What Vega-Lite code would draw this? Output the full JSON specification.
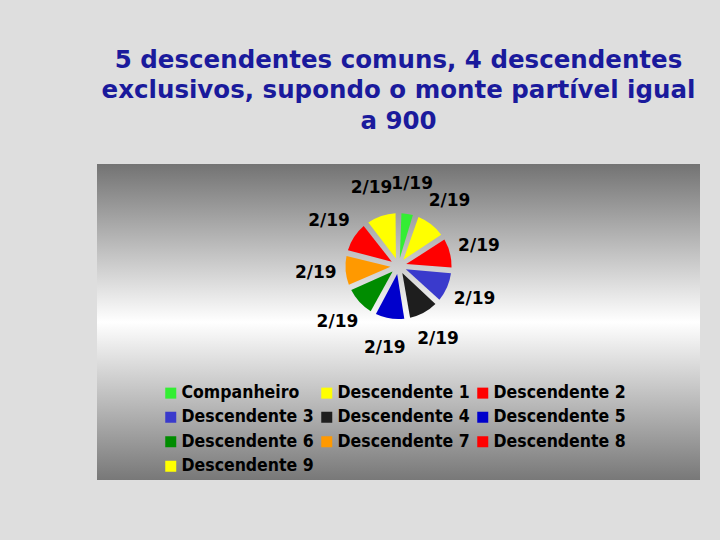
{
  "$schema": "https://vega.github.io/schema/vega-lite/v6.json",
  "width": 603,
  "height": 316,
  "padding": {"left": 97, "top": 47, "right": 20, "bottom": 61},
  "background": "#dedede",
  "title": {
    "text": ["5 descendentes comuns, 4 descendentes", "exclusivos, supondo o monte partível igual", "a 900"],
    "font": "DejaVu Sans",
    "fontSize": 24.5,
    "fontWeight": "bold",
    "lineHeight": 30.5,
    "color": "#1a1a9c",
    "anchor": "middle",
    "offset": 30
  },
  "config": {"view": {"stroke": null}},
  "data": {
    "values": [
      {"pessoa": "Companheiro", "parte": 1, "rotulo": "1/19"},
      {"pessoa": "Descendente 1", "parte": 2, "rotulo": "2/19"},
      {"pessoa": "Descendente 2", "parte": 2, "rotulo": "2/19"},
      {"pessoa": "Descendente 3", "parte": 2, "rotulo": "2/19"},
      {"pessoa": "Descendente 4", "parte": 2, "rotulo": "2/19"},
      {"pessoa": "Descendente 5", "parte": 2, "rotulo": "2/19"},
      {"pessoa": "Descendente 6", "parte": 2, "rotulo": "2/19"},
      {"pessoa": "Descendente 7", "parte": 2, "rotulo": "2/19"},
      {"pessoa": "Descendente 8", "parte": 2, "rotulo": "2/19"},
      {"pessoa": "Descendente 9", "parte": 2, "rotulo": "2/19"}
    ]
  },
  "layer": [
    {
      "data": {"values": [{"painel": "fundo"}]},
      "mark": {
        "type": "rect",
        "color": {
          "gradient": "linear",
          "x1": 0, "y1": 0, "x2": 0, "y2": 1,
          "stops": [
            {"offset": 0, "color": "#737373"},
            {"offset": 0.5, "color": "#ffffff"},
            {"offset": 1, "color": "#787878"}
          ]
        }
      }
    },
    {
      "mark": {
        "type": "arc",
        "outerRadius": 53,
        "innerRadius": 8,
        "padAngle": 0.11,
        "y": {"expr": "height * 0.323"}
      },
      "encoding": {
        "theta": {"field": "parte", "type": "quantitative", "stack": true},
        "order": {"field": "pessoa"},
        "color": {
          "field": "pessoa",
          "type": "nominal",
          "scale": {
            "domain": ["Companheiro", "Descendente 1", "Descendente 2", "Descendente 3", "Descendente 4", "Descendente 5", "Descendente 6", "Descendente 7", "Descendente 8", "Descendente 9"],
            "range": ["#33ee33", "#ffff00", "#ff0000", "#3a3acc", "#1e1e1e", "#0000cc", "#008c00", "#ff9900", "#ff0000", "#ffff00"]
          },
          "legend": {
            "title": null,
            "orient": "none",
            "legendX": 65,
            "legendY": 220,
            "direction": "horizontal",
            "columns": 3,
            "symbolType": "square",
            "symbolSize": 121,
            "symbolStrokeWidth": 0,
            "symbolOpacity": 1,
            "labelFont": "DejaVu Sans Condensed, DejaVu Sans",
            "labelFontSize": 17.5,
            "labelFontWeight": "bold",
            "labelColor": "#000000",
            "labelLimit": 200,
            "labelOffset": 2,
            "columnPadding": 4,
            "rowPadding": 5.5
          }
        }
      }
    },
    {
      "mark": {
        "type": "text",
        "radius": 83,
        "font": "DejaVu Sans",
        "fontSize": 17,
        "fontWeight": "bold",
        "y": {"expr": "height * 0.323"}
      },
      "encoding": {
        "theta": {"field": "parte", "type": "quantitative", "stack": true},
        "order": {"field": "pessoa"},
        "text": {"field": "rotulo", "type": "nominal"},
        "color": {"value": "#000000"}
      }
    }
  ]
}
